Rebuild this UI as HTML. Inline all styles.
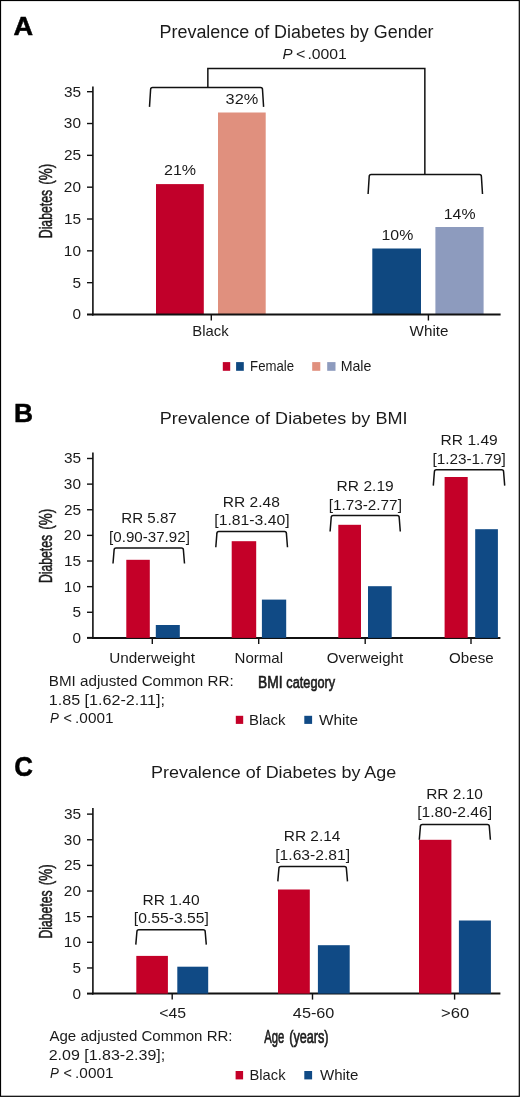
<!DOCTYPE html>
<html><head><meta charset="utf-8"><style>
html,body{margin:0;padding:0;background:#fff;}
svg{display:block;will-change:transform;font-family:"Liberation Sans",sans-serif;}
</style></head><body>
<svg width="520" height="1097" viewBox="0 0 520 1097">
<rect width="520" height="1097" fill="#fff"/>
<rect x="0.5" y="0.5" width="518.8" height="1095.8" fill="none" stroke="#000" stroke-width="1.2"/>
<text x="13.62" y="35.40" font-size="26.3" textLength="19.59" lengthAdjust="spacingAndGlyphs" style="font-weight:bold;" fill="#000" stroke="#000" stroke-width="0.5">A</text>
<text x="159.53" y="37.70" font-size="17.6" textLength="274.07" lengthAdjust="spacingAndGlyphs" style="" fill="#1a1a1a">Prevalence of Diabetes by Gender</text>
<text x="282.53" y="59.40" font-size="14.4" textLength="10.06" lengthAdjust="spacingAndGlyphs" style="font-style:italic;" fill="#1a1a1a">P</text>
<text x="296.01" y="59.40" font-size="14.4" textLength="9.37" lengthAdjust="spacingAndGlyphs" style="" fill="#1a1a1a">&lt;</text>
<text x="307.47" y="59.40" font-size="14.4" textLength="39.41" lengthAdjust="spacingAndGlyphs" style="" fill="#1a1a1a">.0001</text>
<path d="M207.85,88 L207.85,68.4 L424.85,68.4 L424.85,174.4" fill="none" stroke="#111" stroke-width="1.5"/>
<path d="M149.50,106.90 L150.60,89.60 Q150.60,87.60 152.60,87.60 L260.50,87.60 Q262.50,87.60 262.50,89.60 L263.60,106.90" fill="none" stroke="#111" stroke-width="1.5"/>
<path d="M368.10,194.00 L369.20,176.60 Q369.20,174.60 371.20,174.60 L479.40,174.60 Q481.40,174.60 481.40,176.60 L482.50,194.00" fill="none" stroke="#111" stroke-width="1.5"/>
<rect x="156.00" y="184.10" width="47.80" height="130.50" fill="#C1002A"/>
<rect x="218.00" y="112.50" width="47.70" height="202.10" fill="#E0907E"/>
<rect x="372.30" y="248.50" width="48.70" height="66.10" fill="#0F4880"/>
<rect x="435.40" y="227.00" width="48.20" height="87.60" fill="#8D9BBE"/>
<text x="164.00" y="175.20" font-size="14.6" textLength="32.07" lengthAdjust="spacingAndGlyphs" style="" fill="#1a1a1a">21%</text>
<text x="225.58" y="103.80" font-size="14.6" textLength="32.70" lengthAdjust="spacingAndGlyphs" style="" fill="#1a1a1a">32%</text>
<text x="381.49" y="239.70" font-size="14.6" textLength="31.77" lengthAdjust="spacingAndGlyphs" style="" fill="#1a1a1a">10%</text>
<text x="443.79" y="218.50" font-size="14.6" textLength="31.77" lengthAdjust="spacingAndGlyphs" style="" fill="#1a1a1a">14%</text>
<line x1="92.9" y1="86.5" x2="92.9" y2="315.5" stroke="#111" stroke-width="1.6"/>
<line x1="92.10000000000001" y1="314.5" x2="500.6" y2="314.5" stroke="#111" stroke-width="2"/>
<line x1="87" y1="314.5" x2="92.9" y2="314.5" stroke="#111" stroke-width="2"/>
<text x="72.44" y="319.40" font-size="14" textLength="8.56" lengthAdjust="spacingAndGlyphs" style="" fill="#1a1a1a">0</text>
<line x1="87" y1="282.67" x2="92.9" y2="282.67" stroke="#111" stroke-width="1.4"/>
<text x="72.48" y="287.57" font-size="14" textLength="8.56" lengthAdjust="spacingAndGlyphs" style="" fill="#1a1a1a">5</text>
<line x1="87" y1="250.84" x2="92.9" y2="250.84" stroke="#111" stroke-width="1.4"/>
<text x="63.88" y="255.74" font-size="14" textLength="17.13" lengthAdjust="spacingAndGlyphs" style="" fill="#1a1a1a">10</text>
<line x1="87" y1="219.01" x2="92.9" y2="219.01" stroke="#111" stroke-width="1.4"/>
<text x="63.92" y="223.91" font-size="14" textLength="17.13" lengthAdjust="spacingAndGlyphs" style="" fill="#1a1a1a">15</text>
<line x1="87" y1="187.18" x2="92.9" y2="187.18" stroke="#111" stroke-width="1.4"/>
<text x="63.88" y="192.08" font-size="14" textLength="17.13" lengthAdjust="spacingAndGlyphs" style="" fill="#1a1a1a">20</text>
<line x1="87" y1="155.35000000000002" x2="92.9" y2="155.35000000000002" stroke="#111" stroke-width="1.4"/>
<text x="63.92" y="160.25" font-size="14" textLength="17.13" lengthAdjust="spacingAndGlyphs" style="" fill="#1a1a1a">25</text>
<line x1="87" y1="123.52000000000001" x2="92.9" y2="123.52000000000001" stroke="#111" stroke-width="1.4"/>
<text x="63.88" y="128.42" font-size="14" textLength="17.13" lengthAdjust="spacingAndGlyphs" style="" fill="#1a1a1a">30</text>
<line x1="87" y1="91.69" x2="92.9" y2="91.69" stroke="#111" stroke-width="1.4"/>
<text x="63.92" y="96.59" font-size="14" textLength="17.13" lengthAdjust="spacingAndGlyphs" style="" fill="#1a1a1a">35</text>
<line x1="211.3" y1="314.5" x2="211.3" y2="320.5" stroke="#111" stroke-width="1.4"/>
<line x1="428.4" y1="314.5" x2="428.4" y2="320.5" stroke="#111" stroke-width="1.4"/>
<text x="192.28" y="336.40" font-size="14.6" textLength="36.41" lengthAdjust="spacingAndGlyphs" style="" fill="#1a1a1a">Black</text>
<text x="409.62" y="336.40" font-size="14.6" textLength="38.85" lengthAdjust="spacingAndGlyphs" style="" fill="#1a1a1a">White</text>
<text transform="rotate(-90)" x="-238.20" y="52.00" font-size="17.5" textLength="48.34" lengthAdjust="spacingAndGlyphs" style="" fill="#1a1a1a" stroke="#1a1a1a" stroke-width="0.5">Diabetes</text>
<text transform="rotate(-90)" x="-184.63" y="52.00" font-size="17.5" textLength="20.87" lengthAdjust="spacingAndGlyphs" style="" fill="#1a1a1a" stroke="#1a1a1a" stroke-width="0.5">(%)</text>
<rect x="222.80" y="362.10" width="7.40" height="8.70" fill="#C1002A"/>
<rect x="236.10" y="362.10" width="7.70" height="8.70" fill="#0F4880"/>
<text x="250.12" y="370.70" font-size="14.5" textLength="43.97" lengthAdjust="spacingAndGlyphs" style="" fill="#1a1a1a">Female</text>
<rect x="312.20" y="362.10" width="8.10" height="8.70" fill="#E0907E"/>
<rect x="327.20" y="362.10" width="8.30" height="8.70" fill="#8D9BBE"/>
<text x="340.63" y="370.70" font-size="14.5" textLength="30.80" lengthAdjust="spacingAndGlyphs" style="" fill="#1a1a1a">Male</text>
<text x="13.93" y="421.80" font-size="26.3" textLength="19.06" lengthAdjust="spacingAndGlyphs" style="font-weight:bold;" fill="#000" stroke="#000" stroke-width="0.5">B</text>
<text x="159.82" y="423.70" font-size="17.4" textLength="247.64" lengthAdjust="spacingAndGlyphs" style="" fill="#1a1a1a">Prevalence of Diabetes by BMI</text>
<line x1="92.9" y1="452.5" x2="92.9" y2="638.9" stroke="#111" stroke-width="1.6"/>
<line x1="92.10000000000001" y1="637.9" x2="500.4" y2="637.9" stroke="#111" stroke-width="2"/>
<line x1="87" y1="637.9" x2="92.9" y2="637.9" stroke="#111" stroke-width="2"/>
<text x="72.44" y="642.80" font-size="14" textLength="8.56" lengthAdjust="spacingAndGlyphs" style="" fill="#1a1a1a">0</text>
<line x1="87" y1="612.27" x2="92.9" y2="612.27" stroke="#111" stroke-width="1.4"/>
<text x="72.48" y="617.17" font-size="14" textLength="8.56" lengthAdjust="spacingAndGlyphs" style="" fill="#1a1a1a">5</text>
<line x1="87" y1="586.64" x2="92.9" y2="586.64" stroke="#111" stroke-width="1.4"/>
<text x="63.88" y="591.54" font-size="14" textLength="17.13" lengthAdjust="spacingAndGlyphs" style="" fill="#1a1a1a">10</text>
<line x1="87" y1="561.01" x2="92.9" y2="561.01" stroke="#111" stroke-width="1.4"/>
<text x="63.92" y="565.91" font-size="14" textLength="17.13" lengthAdjust="spacingAndGlyphs" style="" fill="#1a1a1a">15</text>
<line x1="87" y1="535.38" x2="92.9" y2="535.38" stroke="#111" stroke-width="1.4"/>
<text x="63.88" y="540.28" font-size="14" textLength="17.13" lengthAdjust="spacingAndGlyphs" style="" fill="#1a1a1a">20</text>
<line x1="87" y1="509.75" x2="92.9" y2="509.75" stroke="#111" stroke-width="1.4"/>
<text x="63.92" y="514.65" font-size="14" textLength="17.13" lengthAdjust="spacingAndGlyphs" style="" fill="#1a1a1a">25</text>
<line x1="87" y1="484.12" x2="92.9" y2="484.12" stroke="#111" stroke-width="1.4"/>
<text x="63.88" y="489.02" font-size="14" textLength="17.13" lengthAdjust="spacingAndGlyphs" style="" fill="#1a1a1a">30</text>
<line x1="87" y1="458.49" x2="92.9" y2="458.49" stroke="#111" stroke-width="1.4"/>
<text x="63.92" y="463.39" font-size="14" textLength="17.13" lengthAdjust="spacingAndGlyphs" style="" fill="#1a1a1a">35</text>
<line x1="152.3" y1="637.9" x2="152.3" y2="643.9" stroke="#111" stroke-width="1.4"/>
<line x1="258.7" y1="637.9" x2="258.7" y2="643.9" stroke="#111" stroke-width="1.4"/>
<line x1="365.2" y1="637.9" x2="365.2" y2="643.9" stroke="#111" stroke-width="1.4"/>
<line x1="471" y1="637.9" x2="471" y2="643.9" stroke="#111" stroke-width="1.4"/>
<text transform="rotate(-90)" x="-583.00" y="52.00" font-size="17.5" textLength="48.14" lengthAdjust="spacingAndGlyphs" style="" fill="#1a1a1a" stroke="#1a1a1a" stroke-width="0.5">Diabetes</text>
<text transform="rotate(-90)" x="-529.63" y="52.00" font-size="17.5" textLength="20.87" lengthAdjust="spacingAndGlyphs" style="" fill="#1a1a1a" stroke="#1a1a1a" stroke-width="0.5">(%)</text>
<rect x="126.30" y="559.80" width="23.50" height="78.10" fill="#C40028"/>
<rect x="155.80" y="625.00" width="24.00" height="12.90" fill="#104A85"/>
<rect x="231.70" y="541.20" width="24.50" height="96.70" fill="#C40028"/>
<rect x="261.90" y="599.60" width="24.30" height="38.30" fill="#104A85"/>
<rect x="338.30" y="524.80" width="22.70" height="113.10" fill="#C40028"/>
<rect x="368.00" y="586.20" width="23.70" height="51.70" fill="#104A85"/>
<rect x="444.60" y="477.00" width="23.10" height="160.90" fill="#C40028"/>
<rect x="475.20" y="529.20" width="22.70" height="108.70" fill="#104A85"/>
<text x="121.26" y="522.80" font-size="14.6" textLength="55.50" lengthAdjust="spacingAndGlyphs" style="" fill="#1a1a1a">RR 5.87</text>
<text x="109.13" y="541.80" font-size="14.6" textLength="80.74" lengthAdjust="spacingAndGlyphs" style="" fill="#1a1a1a">[0.90-37.92]</text>
<path d="M113.00,563.50 L114.10,550.00 Q114.10,548.00 116.10,548.00 L181.40,548.00 Q183.40,548.00 183.40,550.00 L184.50,563.50" fill="none" stroke="#111" stroke-width="1.5"/>
<text x="222.82" y="506.50" font-size="14.6" textLength="57.05" lengthAdjust="spacingAndGlyphs" style="" fill="#1a1a1a">RR 2.48</text>
<text x="214.38" y="525.10" font-size="14.6" textLength="75.24" lengthAdjust="spacingAndGlyphs" style="" fill="#1a1a1a">[1.81-3.40]</text>
<path d="M215.80,547.30 L216.90,533.40 Q216.90,531.40 218.90,531.40 L284.40,531.40 Q286.40,531.40 286.40,533.40 L287.50,547.30" fill="none" stroke="#111" stroke-width="1.5"/>
<text x="336.62" y="490.60" font-size="14.6" textLength="57.12" lengthAdjust="spacingAndGlyphs" style="" fill="#1a1a1a">RR 2.19</text>
<text x="328.71" y="509.50" font-size="14.6" textLength="73.18" lengthAdjust="spacingAndGlyphs" style="" fill="#1a1a1a">[1.73-2.77]</text>
<path d="M330.10,531.50 L331.20,517.50 Q331.20,515.50 333.20,515.50 L397.20,515.50 Q399.20,515.50 399.20,517.50 L400.30,531.50" fill="none" stroke="#111" stroke-width="1.5"/>
<text x="440.62" y="444.80" font-size="14.6" textLength="57.12" lengthAdjust="spacingAndGlyphs" style="" fill="#1a1a1a">RR 1.49</text>
<text x="432.41" y="463.70" font-size="14.6" textLength="73.28" lengthAdjust="spacingAndGlyphs" style="" fill="#1a1a1a">[1.23-1.79]</text>
<path d="M433.30,485.60 L434.40,471.70 Q434.40,469.70 436.40,469.70 L501.60,469.70 Q503.60,469.70 503.60,471.70 L504.70,485.60" fill="none" stroke="#111" stroke-width="1.5"/>
<text x="109.32" y="663.30" font-size="14.6" textLength="85.79" lengthAdjust="spacingAndGlyphs" style="" fill="#1a1a1a">Underweight</text>
<text x="234.56" y="663.30" font-size="14.6" textLength="48.54" lengthAdjust="spacingAndGlyphs" style="" fill="#1a1a1a">Normal</text>
<text x="326.89" y="663.30" font-size="14.6" textLength="76.21" lengthAdjust="spacingAndGlyphs" style="" fill="#1a1a1a">Overweight</text>
<text x="449.09" y="663.30" font-size="14.6" textLength="44.58" lengthAdjust="spacingAndGlyphs" style="" fill="#1a1a1a">Obese</text>
<text x="48.75" y="686.25" font-size="14" textLength="184.93" lengthAdjust="spacingAndGlyphs" style="" fill="#1a1a1a">BMI adjusted Common RR:</text>
<text x="48.78" y="705.00" font-size="14" textLength="116.18" lengthAdjust="spacingAndGlyphs" style="" fill="#1a1a1a">1.85 [1.62-2.11];</text>
<text x="49.99" y="723.00" font-size="14" textLength="8.89" lengthAdjust="spacingAndGlyphs" style="font-style:italic;" fill="#1a1a1a">P</text>
<text x="63.49" y="723.00" font-size="14" textLength="8.41" lengthAdjust="spacingAndGlyphs" style="" fill="#1a1a1a">&lt;</text>
<text x="75.11" y="723.00" font-size="14" textLength="38.35" lengthAdjust="spacingAndGlyphs" style="" fill="#1a1a1a">.0001</text>
<text x="257.97" y="688.40" font-size="17.3" textLength="24.50" lengthAdjust="spacingAndGlyphs" style="" fill="#1a1a1a" stroke="#1a1a1a" stroke-width="0.65">BMI</text>
<text x="286.37" y="688.40" font-size="17.3" textLength="48.77" lengthAdjust="spacingAndGlyphs" style="" fill="#1a1a1a" stroke="#1a1a1a" stroke-width="0.65">category</text>
<rect x="235.80" y="715.80" width="7.40" height="8.10" fill="#C40028"/>
<text x="248.98" y="724.60" font-size="14.6" textLength="36.51" lengthAdjust="spacingAndGlyphs" style="" fill="#1a1a1a">Black</text>
<rect x="304.30" y="715.80" width="7.80" height="8.10" fill="#104A85"/>
<text x="318.92" y="724.60" font-size="14.6" textLength="39.25" lengthAdjust="spacingAndGlyphs" style="" fill="#1a1a1a">White</text>
<text x="14.14" y="775.60" font-size="26.8" textLength="18.66" lengthAdjust="spacingAndGlyphs" style="font-weight:bold;" fill="#000" stroke="#000" stroke-width="0.5">C</text>
<text x="151.03" y="778.00" font-size="17.4" textLength="245.27" lengthAdjust="spacingAndGlyphs" style="" fill="#1a1a1a">Prevalence of Diabetes by Age</text>
<line x1="92.9" y1="808" x2="92.9" y2="994.6" stroke="#111" stroke-width="1.6"/>
<line x1="92.10000000000001" y1="993.6" x2="500.4" y2="993.6" stroke="#111" stroke-width="2"/>
<line x1="87" y1="993.6" x2="92.9" y2="993.6" stroke="#111" stroke-width="2"/>
<text x="72.44" y="998.50" font-size="14" textLength="8.56" lengthAdjust="spacingAndGlyphs" style="" fill="#1a1a1a">0</text>
<line x1="87" y1="967.96" x2="92.9" y2="967.96" stroke="#111" stroke-width="1.4"/>
<text x="72.48" y="972.86" font-size="14" textLength="8.56" lengthAdjust="spacingAndGlyphs" style="" fill="#1a1a1a">5</text>
<line x1="87" y1="942.32" x2="92.9" y2="942.32" stroke="#111" stroke-width="1.4"/>
<text x="63.88" y="947.22" font-size="14" textLength="17.13" lengthAdjust="spacingAndGlyphs" style="" fill="#1a1a1a">10</text>
<line x1="87" y1="916.6800000000001" x2="92.9" y2="916.6800000000001" stroke="#111" stroke-width="1.4"/>
<text x="63.92" y="921.58" font-size="14" textLength="17.13" lengthAdjust="spacingAndGlyphs" style="" fill="#1a1a1a">15</text>
<line x1="87" y1="891.04" x2="92.9" y2="891.04" stroke="#111" stroke-width="1.4"/>
<text x="63.88" y="895.94" font-size="14" textLength="17.13" lengthAdjust="spacingAndGlyphs" style="" fill="#1a1a1a">20</text>
<line x1="87" y1="865.4000000000001" x2="92.9" y2="865.4000000000001" stroke="#111" stroke-width="1.4"/>
<text x="63.92" y="870.30" font-size="14" textLength="17.13" lengthAdjust="spacingAndGlyphs" style="" fill="#1a1a1a">25</text>
<line x1="87" y1="839.76" x2="92.9" y2="839.76" stroke="#111" stroke-width="1.4"/>
<text x="63.88" y="844.66" font-size="14" textLength="17.13" lengthAdjust="spacingAndGlyphs" style="" fill="#1a1a1a">30</text>
<line x1="87" y1="814.12" x2="92.9" y2="814.12" stroke="#111" stroke-width="1.4"/>
<text x="63.92" y="819.02" font-size="14" textLength="17.13" lengthAdjust="spacingAndGlyphs" style="" fill="#1a1a1a">35</text>
<line x1="172.2" y1="993.6" x2="172.2" y2="999.6" stroke="#111" stroke-width="1.4"/>
<line x1="312.5" y1="993.6" x2="312.5" y2="999.6" stroke="#111" stroke-width="1.4"/>
<line x1="454.6" y1="993.6" x2="454.6" y2="999.6" stroke="#111" stroke-width="1.4"/>
<text transform="rotate(-90)" x="-938.60" y="52.00" font-size="17.5" textLength="48.14" lengthAdjust="spacingAndGlyphs" style="" fill="#1a1a1a" stroke="#1a1a1a" stroke-width="0.5">Diabetes</text>
<text transform="rotate(-90)" x="-885.23" y="52.00" font-size="17.5" textLength="20.87" lengthAdjust="spacingAndGlyphs" style="" fill="#1a1a1a" stroke="#1a1a1a" stroke-width="0.5">(%)</text>
<rect x="136.30" y="955.90" width="31.60" height="37.70" fill="#C40028"/>
<rect x="177.30" y="966.70" width="30.90" height="26.90" fill="#104A85"/>
<rect x="278.00" y="889.50" width="31.80" height="104.10" fill="#C40028"/>
<rect x="317.90" y="945.20" width="31.80" height="48.40" fill="#104A85"/>
<rect x="419.00" y="839.80" width="32.40" height="153.80" fill="#C40028"/>
<rect x="458.90" y="920.50" width="32.00" height="73.10" fill="#104A85"/>
<text x="142.52" y="904.50" font-size="14.6" textLength="57.09" lengthAdjust="spacingAndGlyphs" style="" fill="#1a1a1a">RR 1.40</text>
<text x="133.89" y="923.10" font-size="14.6" textLength="74.93" lengthAdjust="spacingAndGlyphs" style="" fill="#1a1a1a">[0.55-3.55]</text>
<path d="M135.80,944.60 L136.90,931.80 Q136.90,929.80 138.90,929.80 L203.20,929.80 Q205.20,929.80 205.20,931.80 L206.30,944.60" fill="none" stroke="#111" stroke-width="1.5"/>
<text x="283.73" y="840.90" font-size="14.6" textLength="56.72" lengthAdjust="spacingAndGlyphs" style="" fill="#1a1a1a">RR 2.14</text>
<text x="275.29" y="859.60" font-size="14.6" textLength="74.72" lengthAdjust="spacingAndGlyphs" style="" fill="#1a1a1a">[1.63-2.81]</text>
<path d="M277.80,881.40 L278.90,868.60 Q278.90,866.60 280.90,866.60 L344.40,866.60 Q346.40,866.60 346.40,868.60 L347.50,881.40" fill="none" stroke="#111" stroke-width="1.5"/>
<text x="426.23" y="798.80" font-size="14.6" textLength="56.68" lengthAdjust="spacingAndGlyphs" style="" fill="#1a1a1a">RR 2.10</text>
<text x="417.19" y="817.30" font-size="14.6" textLength="74.83" lengthAdjust="spacingAndGlyphs" style="" fill="#1a1a1a">[1.80-2.46]</text>
<path d="M419.30,839.80 L420.40,826.40 Q420.40,824.40 422.40,824.40 L487.30,824.40 Q489.30,824.40 489.30,826.40 L490.40,839.80" fill="none" stroke="#111" stroke-width="1.5"/>
<text x="159.22" y="1017.70" font-size="14.6" textLength="26.84" lengthAdjust="spacingAndGlyphs" style="" fill="#1a1a1a">&lt;45</text>
<text x="292.88" y="1017.70" font-size="14.6" textLength="41.52" lengthAdjust="spacingAndGlyphs" style="" fill="#1a1a1a">45-60</text>
<text x="441.09" y="1017.70" font-size="14.6" textLength="28.17" lengthAdjust="spacingAndGlyphs" style="" fill="#1a1a1a">&gt;60</text>
<text x="49.47" y="1041.25" font-size="14" textLength="183.09" lengthAdjust="spacingAndGlyphs" style="" fill="#1a1a1a">Age adjusted Common RR:</text>
<text x="48.70" y="1060.00" font-size="14" textLength="116.49" lengthAdjust="spacingAndGlyphs" style="" fill="#1a1a1a">2.09 [1.83-2.39];</text>
<text x="49.99" y="1078.40" font-size="14" textLength="8.89" lengthAdjust="spacingAndGlyphs" style="font-style:italic;" fill="#1a1a1a">P</text>
<text x="63.49" y="1078.40" font-size="14" textLength="8.41" lengthAdjust="spacingAndGlyphs" style="" fill="#1a1a1a">&lt;</text>
<text x="75.11" y="1078.40" font-size="14" textLength="38.35" lengthAdjust="spacingAndGlyphs" style="" fill="#1a1a1a">.0001</text>
<text x="264.28" y="1043.20" font-size="17.5" textLength="20.02" lengthAdjust="spacingAndGlyphs" style="" fill="#1a1a1a" stroke="#1a1a1a" stroke-width="0.65">Age</text>
<text x="289.22" y="1043.20" font-size="17.5" textLength="39.37" lengthAdjust="spacingAndGlyphs" style="" fill="#1a1a1a" stroke="#1a1a1a" stroke-width="0.65">(years)</text>
<rect x="235.60" y="1071.00" width="7.50" height="8.40" fill="#C40028"/>
<text x="249.54" y="1079.50" font-size="14.6" textLength="35.95" lengthAdjust="spacingAndGlyphs" style="" fill="#1a1a1a">Black</text>
<rect x="304.30" y="1071.00" width="7.80" height="8.40" fill="#104A85"/>
<text x="319.92" y="1079.50" font-size="14.6" textLength="38.54" lengthAdjust="spacingAndGlyphs" style="" fill="#1a1a1a">White</text>
</svg></body></html>
